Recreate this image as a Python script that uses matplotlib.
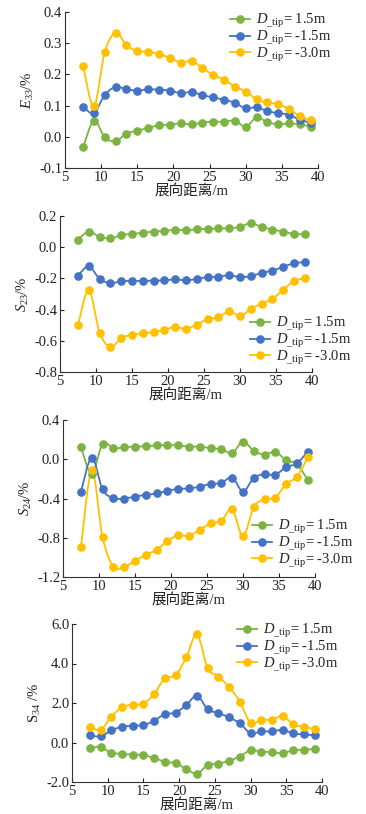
import numpy as np
import matplotlib
matplotlib.use("Agg")
import matplotlib.pyplot as plt
from matplotlib.path import Path
from matplotlib.patches import PathPatch
from matplotlib.lines import Line2D

plt.rcParams['font.family'] = ['Liberation Serif', 'Noto Sans CJK SC']
plt.rcParams['mathtext.fontset'] = 'custom'
plt.rcParams['mathtext.rm'] = 'Liberation Serif'
plt.rcParams['mathtext.it'] = 'Liberation Serif:italic'

span = [7.5, 9, 10.5, 12, 13.5, 15, 16.5, 18, 19.5, 21, 22.5, 24, 25.5, 27,
        28.5, 30, 31.5, 33, 34.5, 36, 37.5, 39]

e33_p15 = [-0.034, 0.052, -0.002, -0.014, 0.010, 0.020, 0.028, 0.037, 0.039, 0.043, 0.040,
           0.045, 0.049, 0.048, 0.052, 0.032, 0.062, 0.047, 0.040, 0.043, 0.040, 0.032]
e33_m15 = [0.096, 0.076, 0.134, 0.160, 0.152, 0.148, 0.152, 0.151, 0.148, 0.140, 0.143,
           0.134, 0.126, 0.119, 0.109, 0.091, 0.095, 0.082, 0.076, 0.070, 0.055, 0.045]
e33_m30 = [0.227, 0.098, 0.271, 0.334, 0.294, 0.274, 0.273, 0.265, 0.253, 0.238, 0.243,
           0.221, 0.198, 0.183, 0.161, 0.145, 0.120, 0.110, 0.104, 0.089, 0.066, 0.053]

s23_p15 = [0.049, 0.100, 0.066, 0.056, 0.077, 0.085, 0.092, 0.100, 0.105, 0.111, 0.109,
           0.115, 0.118, 0.120, 0.122, 0.130, 0.154, 0.130, 0.113, 0.100, 0.085, 0.083]
s23_m15 = [-0.182, -0.122, -0.203, -0.231, -0.218, -0.216, -0.216, -0.214, -0.212, -0.207, -0.212,
           -0.203, -0.192, -0.190, -0.179, -0.192, -0.186, -0.165, -0.150, -0.126, -0.103, -0.096]
s23_m30 = [-0.498, -0.274, -0.547, -0.639, -0.583, -0.560, -0.553, -0.543, -0.530, -0.511, -0.524,
           -0.496, -0.462, -0.449, -0.412, -0.440, -0.397, -0.361, -0.331, -0.274, -0.216, -0.199]

s24_p15 = [0.122, -0.149, 0.156, 0.112, 0.122, 0.129, 0.132, 0.142, 0.142, 0.142, 0.129,
           0.129, 0.112, 0.102, 0.064, 0.180, 0.085, 0.047, 0.075, -0.010, -0.050, -0.214]
s24_m15 = [-0.329, 0.017, -0.308, -0.397, -0.400, -0.380, -0.363, -0.349, -0.322, -0.302, -0.298,
           -0.278, -0.251, -0.241, -0.186, -0.329, -0.190, -0.153, -0.156, -0.081, -0.041, 0.078]
s24_m30 = [-0.892, -0.112, -0.797, -1.095, -1.098, -1.034, -0.976, -0.922, -0.834, -0.776, -0.780,
           -0.719, -0.654, -0.627, -0.508, -0.786, -0.488, -0.407, -0.390, -0.251, -0.176, 0.020]

s34_p15 = [-0.27, -0.24, -0.51, -0.58, -0.61, -0.64, -0.78, -0.98, -1.05, -1.34, -1.58,
           -1.14, -1.07, -0.92, -0.71, -0.39, -0.46, -0.49, -0.54, -0.39, -0.37, -0.32]
s34_m15 = [0.37, 0.31, 0.61, 0.80, 0.85, 0.88, 1.10, 1.44, 1.51, 1.90, 2.37,
           1.68, 1.49, 1.27, 0.97, 0.47, 0.56, 0.56, 0.64, 0.46, 0.41, 0.36]
s34_m30 = [0.81, 0.64, 1.31, 1.78, 1.92, 1.97, 2.46, 3.25, 3.41, 4.31, 5.47,
           3.76, 3.34, 2.80, 2.07, 0.98, 1.15, 1.15, 1.34, 0.92, 0.78, 0.69]

series_labels = [r'$D_{\_\mathrm{tip}}$= 1.5m', r'$D_{\_\mathrm{tip}}$= -1.5m', r'$D_{\_\mathrm{tip}}$= -3.0m']
colors = ['#7cb342', '#4472c4', '#ffc000']
xlabel = '展向距离/m'

W, H = 366, 814
fig = plt.figure(figsize=(W / 100, H / 100), dpi=100)


def add_ax(l, r, t, b):
    return fig.add_axes([l / W, 1 - b / H, (r - l) / W, (b - t) / H])


def smooth_path(x, y, tension=0.5):
    x = np.asarray(x, float)
    y = np.asarray(y, float)
    n = len(x)
    verts = [(x[0], y[0])]
    codes = [Path.MOVETO]
    for i in range(n - 1):
        x0, y0 = (x[i - 1], y[i - 1]) if i > 0 else (x[i], y[i])
        x3, y3 = (x[i + 2], y[i + 2]) if i + 2 < n else (x[i + 1], y[i + 1])
        x1, y1, x2, y2 = x[i], y[i], x[i + 1], y[i + 1]
        k = tension / 3.0
        c1 = (x1 + (x2 - x0) * k, y1 + (y2 - y0) * k)
        c2 = (x2 - (x3 - x1) * k, y2 - (y3 - y1) * k)
        verts += [c1, c2, (x2, y2)]
        codes += [Path.CURVE4] * 3
    return Path(verts, codes)


def panel(ax, data, ylim, yticks, ylabel, leg_xy, smooth=True):
    for vals, c, lab in zip(data, colors, series_labels):
        if smooth:
            ax.add_patch(PathPatch(smooth_path(span, vals), facecolor='none', edgecolor=c, lw=1.3, zorder=2))
            ax.plot(span, vals, ls='none', marker='o', ms=5.2, color=c, zorder=3)
        else:
            ax.plot(span, vals, ls='-', lw=1.3, marker='o', ms=5.2, color=c, zorder=3)
    ax.set_xlim(5, 40)
    ax.set_xticks([5, 10, 15, 20, 25, 30, 35, 40])
    ax.set_ylim(*ylim)
    ax.set_yticks(yticks)
    ax.set_yticklabels(['%.1f' % v for v in yticks])
    ax.spines['top'].set_visible(False)
    ax.spines['right'].set_visible(False)
    for s in ['left', 'bottom']:
        ax.spines[s].set_color('#333333')
        ax.spines[s].set_linewidth(0.8)
    ax.tick_params(direction='in', length=3, width=0.8, labelsize=10.5, pad=2, colors='#222222')
    ax.set_xlabel(xlabel, fontsize=10.5, labelpad=0, color='#222222')
    ax.set_ylabel(ylabel, fontsize=10.5, labelpad=2, color='#222222')
    handles = [Line2D([], [], color=c, marker='o', ms=5.2, lw=1.3) for c in colors]
    lx, ly = leg_xy
    leg = ax.legend(handles, series_labels, loc='upper left',
                    bbox_to_anchor=(lx / W, 1 - ly / H), bbox_transform=fig.transFigure,
                    frameon=False, fontsize=10.5, handlelength=1.4, handletextpad=0.35,
                    labelspacing=-0.08, borderaxespad=0, borderpad=0)
    for t in leg.get_texts():
        t.set_color('#222222')


ax1 = add_ax(65, 318, 12, 168)
panel(ax1, [e33_p15, e33_m15, e33_m30], (-0.1, 0.4), [-0.1, 0.0, 0.1, 0.2, 0.3, 0.4],
      r'$E_{33}$/%', (230, 12))

ax2 = add_ax(60, 312, 216, 372)
panel(ax2, [s23_p15, s23_m15, s23_m30], (-0.8, 0.2), [-0.8, -0.6, -0.4, -0.2, 0.0, 0.2],
      r'$S_{23}$/%', (250, 315))

ax3 = add_ax(63, 315, 420, 577)
panel(ax3, [s24_p15, s24_m15, s24_m30], (-1.2, 0.4), [-1.2, -0.8, -0.4, 0.0, 0.4],
      r'$S_{24}$/%', (252, 518))

ax4 = add_ax(72, 322, 624, 782)
panel(ax4, [s34_p15, s34_m15, s34_m30], (-2.0, 6.0), [-2.0, 0.0, 2.0, 4.0, 6.0],
      r'S$_{34}$ /%', (237, 622))

fig.savefig('out.png', dpi=100)
